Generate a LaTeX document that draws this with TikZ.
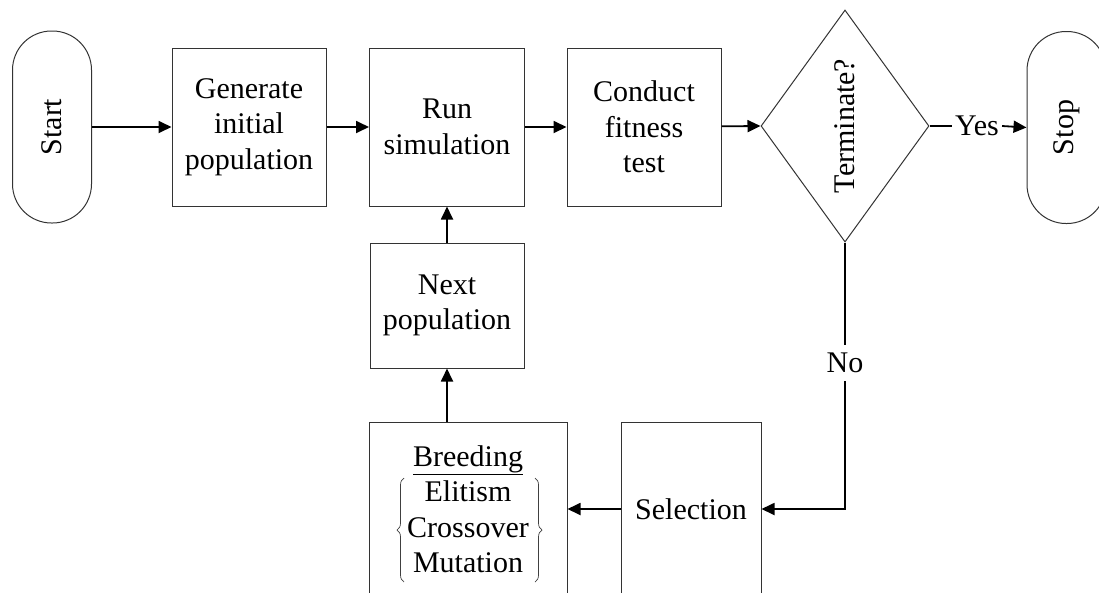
\documentclass[tikz,border=0pt]{standalone}
\usepackage{fontspec}
\setmainfont{Liberation Serif}
\usetikzlibrary{shapes.geometric,arrows.meta,decorations.pathreplacing,calc}
\tikzset{
  base/.style={draw=black!80, line width=1pt, inner sep=0pt, align=center,
    font=\fontsize{30}{35.5}\selectfont},
  box/.style={base, rectangle},
  term/.style={base, rectangle, rounded corners=39pt, minimum width=79pt, minimum height=192pt},
  dec/.style={base, diamond, minimum width=168pt, minimum height=232pt},
  lbl/.style={inner sep=3pt, font=\fontsize{30}{35.5}\selectfont},
  flow/.style={line width=1.8pt, -{Triangle[length=13pt,width=12pt]}},
  plain/.style={line width=1.8pt},
  curly/.style={draw=black!75, line width=0.7pt, decorate, decoration={brace, amplitude=7pt}}
}
\begin{document}
\begin{tikzpicture}[x=1pt,y=-1pt]
\clip (0,0) rectangle (1099,592);
\fill[white] (0,0) rectangle (1099,592);
\node[term] (start) at (52,127) {\rotatebox{90}{Start}};
\node[box, minimum width=154pt, minimum height=158pt] (gen) at (249,127) {Generate\\initial\\population};
\node[box, minimum width=155pt, minimum height=158pt] (run) at (447,127) {Run\\simulation};
\node[box, minimum width=154pt, minimum height=158pt] (fit) at (644,127) {Conduct\\fitness\\test};
\node[dec] (term) at (845,126) {\rotatebox{90}{Terminate?}};
\node[term] (stop) at (1066.5,127.5) {\rotatebox{90}{Stop}};
\node[box, minimum width=154pt, minimum height=125pt] (next) at (447,305.5) {Next\\population};
\node[box, minimum width=198pt, minimum height=174pt] (breed) at (468,509)
  {\underline{Breeding}\\Elitism\\Crossover\\Mutation};
\node[box, minimum width=140pt, minimum height=174pt] (sel) at (691,509) {Selection};
\node[lbl] (yes) at (977,126) {Yes};
\node[lbl, inner sep=8pt] (no) at (845,363) {No};
\draw[curly] ($(breed.center)+(-64,73)$) -- ($(breed.center)+(-64,-31)$);
\draw[curly] ($(breed.center)+(67,-31)$) -- ($(breed.center)+(67,73)$);
\draw[flow] (start) -- (gen);
\draw[flow] (gen) -- (run);
\draw[flow] (run) -- (fit);
\draw[flow] (fit) -- (term.west);
\draw[plain] (term.east) -- (yes.west);
\draw[flow] (yes.east) -- (stop.west);
\draw[plain] (term.south) -- (no.north);
\draw[flow] (no.south) |- (sel.east);
\draw[flow] (sel.west) -- (sel.west -| breed.east);
\draw[flow] (breed.north -| next.south) -- (next.south);
\draw[flow] (next.north) -- (run.south);
\end{tikzpicture}
\end{document}
